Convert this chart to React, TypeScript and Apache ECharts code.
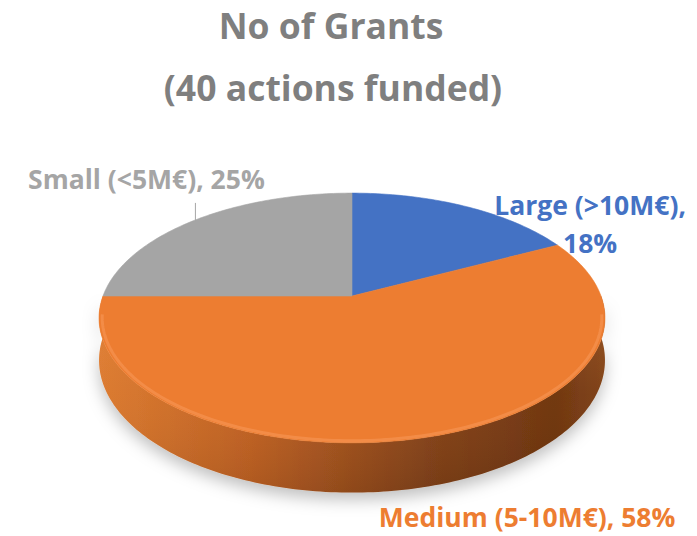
import React, { useEffect, useRef } from "react";
import * as echarts from "echarts";

const categories = ["Large (>10M€)", "Medium (5-10M€)", "Small (<5M€)"];
const grantCounts = [7, 23, 10];
const titleLines = ["No of Grants", "(40 actions funded)"];

const TOP_COLORS = ["#4472C4", "#ED7D31", "#A5A5A5"];
const LABEL_COLORS = ["#4472C4", "#ED7D31", "#A5A5A5"];
// label placement relative to the projected mid-angle point of each slice
const LABEL_OFFSETS = [
  [125, 18],
  [105, 79],
  [-49, -41],
];

const CX = 352;
const CY = 296;
const RX = 249;
const RY = 121;
const PERSP = 0.176;
const DEPTH = 41;

function proj(t: number, r: number, h: number): number[] {
  const u = r * Math.sin(t);
  const w = r * Math.cos(t);
  const s = 1 / (1 + PERSP * w);
  return [CX + RX * u * s, CY - RY * w * s + DEPTH * h * s];
}

function arc(a: number, b: number, r: number, h: number): number[][] {
  const n = Math.max(4, Math.ceil(((b - a) * 180) / Math.PI));
  const pts: number[][] = [];
  for (let k = 0; k <= n; k++) {
    pts.push(proj(a + ((b - a) * k) / n, r, h));
  }
  return pts;
}

export default function App() {
  const ref = useRef<HTMLDivElement>(null);
  useEffect(() => {
    if (!ref.current) return;
    const chart = echarts.init(ref.current, null, { renderer: "svg" });
    const total = grantCounts.reduce((s, v) => s + v, 0);
    const starts: number[] = [];
    let acc = 0;
    grantCounts.forEach((v) => {
      starts.push(acc);
      acc += v;
    });
    const pct = grantCounts.map((v) => Math.round((v * 100) / total + 1e-9));
    const labelTexts = categories.map((c, i) =>
      i === 0 ? `${c},\n${pct[i]}%` : `${c}, ${pct[i]}%`
    );

    const renderItem = (params: any, api: any) => {
      const i = params.dataIndex;
      const v = api.value(0);
      const a = (starts[i] / total) * Math.PI * 2;
      const b = a + (v / total) * Math.PI * 2;
      const children: any[] = [];
      const a2 = Math.max(a, Math.PI / 2);
      const b2 = Math.min(b, (Math.PI * 3) / 2);
      if (b2 > a2) {
        const top = arc(a2, b2, 1, 0);
        const bottom = arc(a2, b2, 1, 1).reverse();
        const wallPts = top.concat(bottom);
        children.push({
          type: "polygon",
          z2: 1,
          shape: { points: wallPts },
          style: {
            fill: new echarts.graphic.LinearGradient(0, 0, 1, 0, [
              { offset: 0, color: "#da7a30" },
              { offset: 0.3, color: "#c06224" },
              { offset: 0.65, color: "#84431a" },
              { offset: 0.9, color: "#6c340f" },
              { offset: 1, color: "#7c4016" },
            ]),
            shadowBlur: 16,
            shadowColor: "rgba(0,0,0,0.25)",
            shadowOffsetY: 7,
          },
        });
        children.push({
          type: "polygon",
          z2: 2,
          shape: { points: wallPts },
          style: {
            fill: new echarts.graphic.LinearGradient(0, 0, 0, 1, [
              { offset: 0, color: "rgba(255,160,90,0.22)" },
              { offset: 0.5, color: "rgba(255,160,90,0.04)" },
              { offset: 1, color: "rgba(0,0,0,0.1)" },
            ]),
          },
        });
      }
      const face = [proj(0, 0, 0)].concat(arc(a, b, 1, 0));
      children.push({
        type: "polygon",
        z2: 5,
        shape: { points: face },
        style: { fill: TOP_COLORS[i], stroke: TOP_COLORS[i], lineWidth: 0.6 },
      });
      if (b2 > a2) {
        children.push({
          type: "polyline",
          z2: 6,
          shape: { points: arc(a2 + 0.15, b2 - 0.15, 0.988, 0) },
          style: { stroke: "rgba(250,160,100,0.45)", lineWidth: 3, fill: null },
        });
      }
      const mid = (a + b) / 2;
      const anchor = proj(mid, 1, 0);
      const off = LABEL_OFFSETS[i];
      children.push({
        type: "text",
        z2: 10,
        x: anchor[0] + off[0],
        y: anchor[1] + off[1],
        style: {
          text: labelTexts[i],
          fill: LABEL_COLORS[i],
          fontFamily: "Open Sans",
          fontWeight: "bold",
          fontSize: 26.5,
          lineHeight: i === 0 ? 38 : 28,
          align: "center",
          verticalAlign: "middle",
        },
      });
      if (i === 2) {
        children.push({
          type: "line",
          z2: 10,
          shape: { x1: anchor[0], y1: anchor[1] + 2, x2: anchor[0], y2: anchor[1] - 17 },
          style: { stroke: "#A5A5A5", lineWidth: 1 },
        });
      }
      return { type: "group", children };
    };

    const titleStyle = {
      fontFamily: "Open Sans",
      fontWeight: "bold" as const,
      fontSize: 35.5,
      color: "#7f7f7f",
      lineHeight: 40,
    };
    chart.setOption({
      animation: false,
      backgroundColor: "#ffffff",
      title: [
        { text: titleLines[0], left: 326, textAlign: "center", top: 0, textStyle: titleStyle },
        { text: titleLines[1], left: 328, textAlign: "center", top: 62, textStyle: titleStyle },
      ],
      series: [
        {
          type: "custom",
          coordinateSystem: "none",
          renderItem,
          data: grantCounts.map((v, i) => ({ value: [v], name: categories[i] })),
        },
      ],
    });
    return () => chart.dispose();
  }, []);
  return (
    <div
      ref={ref}
      style={{ position: "fixed", left: 0, top: 0, width: 697, height: 536 }}
    />
  );
}
